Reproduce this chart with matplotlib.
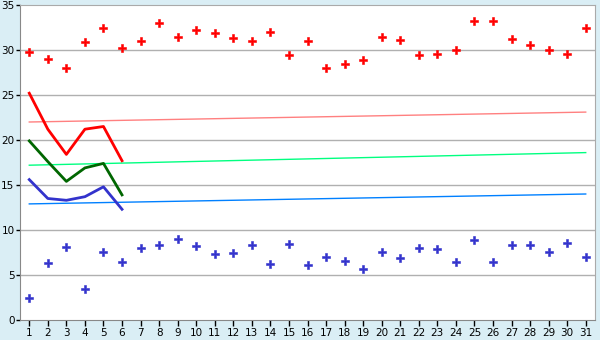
import numpy as np
import matplotlib.pyplot as plt

# daily values
days = list(range(1, 32))
high = [29.8, 29.0, 28.0, 30.9, 32.4, 30.2, 31.0, 33.0, 31.4, 32.2,
        31.9, 31.3, 31.0, 32.0, 29.5, 31.0, 28.0, 28.4, 28.9, 31.4,
        31.1, 29.5, 29.6, 30.0, 33.2, 33.2, 31.2, 30.6, 30.0, 29.6, 32.4]
low = [2.5, 6.3, 8.1, 3.5, 7.6, 6.4, 8.0, 8.3, 9.0, 8.2,
       7.3, 7.5, 8.3, 6.2, 8.5, 6.1, 7.0, 6.6, 5.7, 7.6,
       6.9, 8.0, 7.9, 6.5, 8.9, 6.5, 8.3, 8.3, 7.6, 8.6, 7.0]

# first days lines
line_days = [1, 2, 3, 4, 5, 6]
red_line = [25.2, 21.2, 18.4, 21.2, 21.5, 17.7]
green_line = [19.9, 17.6, 15.4, 16.9, 17.4, 13.9]
blue_line = [15.6, 13.5, 13.3, 13.7, 14.8, 12.3]

# trend lines (start / end)
trend_days = [1, 31]
red_trend = [22.0, 23.1]
green_trend = [17.2, 18.6]
blue_trend = [12.9, 14.0]

fig = plt.figure(figsize=(6, 3.4), dpi=100, facecolor='#daeef5')
ax = fig.add_axes([20/600, 20/340, 575/600, 315/340])
ax.set_facecolor('white')

# grid
for v in range(5, 35, 5):
    ax.axhline(v, color='#b0b0b0', linewidth=1, zorder=0)

ax.plot(trend_days, red_trend, color='#ff8080', linewidth=1)
ax.plot(trend_days, green_trend, color='#00ff80', linewidth=1)
ax.plot(trend_days, blue_trend, color='#0080ff', linewidth=1)

ax.plot(line_days, red_line, color='#ff0000', linewidth=2)
ax.plot(line_days, green_line, color='#006600', linewidth=2)
ax.plot(line_days, blue_line, color='#3333cc', linewidth=2)

ax.scatter(days, high, marker='P', s=32, color='#ff0000', linewidths=0.4, edgecolors='#ff0000')
ax.scatter(days, low, marker='P', s=32, color='#3333cc', linewidths=0.4, edgecolors='#3333cc')

ax.set_xlim(0.5, 31.5)
ax.set_ylim(0, 35)
ax.set_xticks(days)
ax.set_yticks(range(0, 36, 5))
ax.tick_params(axis='x', labelsize=7.5, color='black', length=4, width=1, pad=2)
ax.tick_params(axis='y', labelsize=7.5, color='black', length=3, width=1, pad=1)
for s in ax.spines.values():
    s.set_color('#aaaaaa')
ax.spines['left'].set_color('#888888')
ax.spines['bottom'].set_color('#888888')

fig.savefig('out.png', dpi=100, facecolor=fig.get_facecolor())
